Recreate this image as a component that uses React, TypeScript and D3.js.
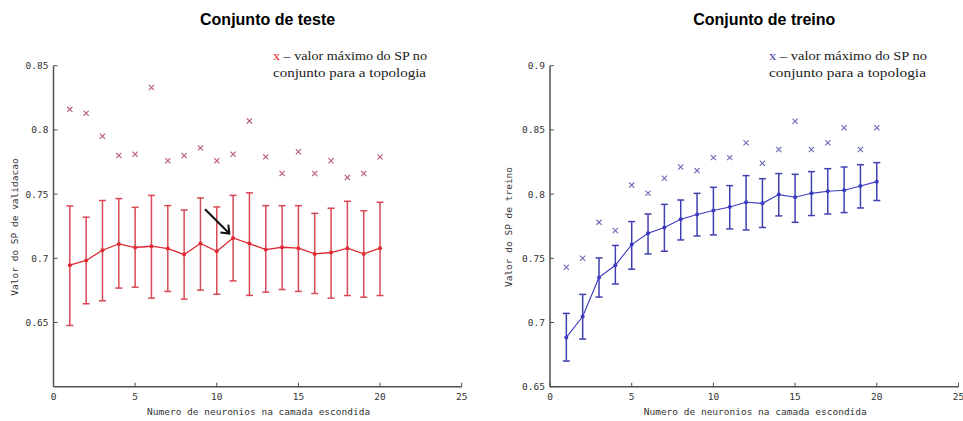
import React from "react";
import * as d3 from "d3";

const neurons = d3.range(1, 21);

// Conjunto de teste
const testMean = [0.6946, 0.6983, 0.7063, 0.7112, 0.7084, 0.7094, 0.7076, 0.703, 0.7115, 0.7055, 0.7159, 0.7115, 0.7068, 0.7086, 0.7079, 0.7034, 0.7045, 0.7079, 0.7034, 0.7079];
const testUpper = [0.7408, 0.732, 0.745, 0.7465, 0.7397, 0.749, 0.741, 0.7376, 0.747, 0.740, 0.749, 0.751, 0.741, 0.741, 0.741, 0.735, 0.739, 0.7444, 0.737, 0.7436];
const testLower = [0.6477, 0.6646, 0.6669, 0.6768, 0.6775, 0.669, 0.6742, 0.6682, 0.6752, 0.672, 0.6824, 0.6711, 0.6736, 0.6757, 0.6742, 0.6726, 0.669, 0.671, 0.6697, 0.671];
const testMax = [0.816, 0.813, 0.795, 0.780, 0.781, 0.833, 0.776, 0.780, 0.786, 0.776, 0.781, 0.807, 0.779, 0.766, 0.783, 0.766, 0.776, 0.763, 0.766, 0.779];

// Conjunto de treino
const trainMean = [0.6884, 0.7047, 0.7351, 0.7446, 0.7607, 0.7695, 0.774, 0.7804, 0.7841, 0.7872, 0.790, 0.7936, 0.7928, 0.7996, 0.7975, 0.8006, 0.8022, 0.803, 0.8063, 0.8097];
const trainUpper = [0.7071, 0.7219, 0.7503, 0.760, 0.7786, 0.7845, 0.792, 0.7954, 0.8006, 0.8053, 0.8066, 0.8144, 0.812, 0.816, 0.8154, 0.8175, 0.8198, 0.8211, 0.8229, 0.8245];
const trainLower = [0.670, 0.6871, 0.7198, 0.730, 0.7415, 0.7534, 0.7555, 0.7643, 0.7674, 0.7682, 0.7729, 0.7721, 0.774, 0.783, 0.778, 0.7833, 0.7845, 0.7856, 0.7892, 0.795];
const trainMax = [0.743, 0.750, 0.778, 0.7716, 0.807, 0.8006, 0.8123, 0.8211, 0.8183, 0.8284, 0.8284, 0.840, 0.824, 0.8348, 0.8568, 0.8348, 0.840, 0.8517, 0.8348, 0.8517];

const xTicks = [0, 5, 10, 15, 20, 25];
const testYTicks = [0.65, 0.7, 0.75, 0.8, 0.85];
const trainYTicks = [0.65, 0.7, 0.75, 0.8, 0.85, 0.9];

// arrow pointing at the best test topology (data units)
const arrowFrom = [9.28, 0.7382];
const arrowTo = [10.77, 0.7193];

const mono = "'DejaVu Sans Mono', monospace";
const serif = "'Liberation Serif', 'DejaVu Serif', serif";

type PanelProps = {
  title: string;
  ylabel: string;
  x0: number;
  x1: number;
  yDomain: [number, number];
  yTicks: number[];
  mean: number[];
  upper: number[];
  lower: number[];
  maxv: number[];
  lineColor: string;
  lineWidth: number;
  barColor: string;
  markColor: string;
  legendColor: string;
  legendX: number;
  legendW: number;
  ylabelX: number;
  arrow?: boolean;
};

const Panel = (p: PanelProps) => {
  const x = d3.scaleLinear().domain([0, 25]).range([p.x0, p.x1]);
  const y = d3.scaleLinear().domain(p.yDomain).range([386.7, 65.7]);
  const line = d3.line<number>().x((d, i) => x(neurons[i])).y((d) => y(d));
  const axisColor = "#505050";
  const cap = 3.5;
  const xs = 2.6;
  const midX = (p.x0 + p.x1) / 2;
  return (
    <g>
      <text x={midX + 10} y={25} textAnchor="middle" fontFamily="Arial, 'Liberation Sans', sans-serif" fontWeight="bold" fontSize={16}>{p.title}</text>

      {/* axes */}
      <line x1={p.x0} x2={p.x0} y1={y(p.yDomain[1])} y2={y(p.yDomain[0])} stroke={axisColor} strokeWidth={1.5} />
      <line x1={p.x0} x2={p.x1} y1={y(p.yDomain[0])} y2={y(p.yDomain[0])} stroke={axisColor} strokeWidth={1.5} />
      {p.yTicks.map((t) => (
        <g key={t}>
          <line x1={p.x0} x2={p.x0 + 4} y1={y(t)} y2={y(t)} stroke={axisColor} strokeWidth={1} />
          <text x={p.x0 - 5} y={y(t) + 3.5} textAnchor="end" fontFamily={mono} fontSize={9.5} fill="#333">{d3.format("")(t)}</text>
        </g>
      ))}
      {xTicks.map((t) => (
        <g key={t}>
          <line x1={x(t)} x2={x(t)} y1={y(p.yDomain[0])} y2={y(p.yDomain[0]) - 4} stroke={axisColor} strokeWidth={1} />
          <text x={x(t)} y={400} textAnchor="middle" fontFamily={mono} fontSize={9.5} fill="#333">{t}</text>
        </g>
      ))}
      <text x={midX + 1} y={415} textAnchor="middle" fontFamily={mono} fontSize={9.5} fill="#333">Numero de neuronios na camada escondida</text>
      <text transform={`translate(${p.ylabelX},227) rotate(-90)`} textAnchor="middle" fontFamily={mono} fontSize={9.5} fill="#333">{p.ylabel}</text>

      {/* max markers */}
      {p.maxv.map((v, i) => (
        <path key={i} d={`M${x(neurons[i]) - xs},${y(v) - xs}L${x(neurons[i]) + xs},${y(v) + xs}M${x(neurons[i]) - xs},${y(v) + xs}L${x(neurons[i]) + xs},${y(v) - xs}`} stroke={p.markColor} strokeWidth={1.1} fill="none" />
      ))}

      {/* error bars */}
      {p.mean.map((v, i) => {
        const cx = x(neurons[i]);
        return (
          <g key={i} stroke={p.barColor} strokeWidth={1.5}>
            <line x1={cx} x2={cx} y1={y(p.upper[i])} y2={y(p.lower[i])} />
            <line x1={cx - cap} x2={cx + cap} y1={y(p.upper[i])} y2={y(p.upper[i])} />
            <line x1={cx - cap} x2={cx + cap} y1={y(p.lower[i])} y2={y(p.lower[i])} />
          </g>
        );
      })}
      <path d={line(p.mean) || ""} fill="none" stroke={p.lineColor} strokeWidth={p.lineWidth} />
      {p.mean.map((v, i) => (
        <circle key={i} cx={x(neurons[i])} cy={y(v)} r={2} fill={p.lineColor} />
      ))}

      {p.arrow && (
        <g stroke="#111" strokeWidth={2} fill="none">
          <line x1={x(arrowFrom[0])} y1={y(arrowFrom[1])} x2={x(arrowTo[0])} y2={y(arrowTo[1])} />
          <path d={`M${x(arrowTo[0]) - 9},${y(arrowTo[1]) - 1}L${x(arrowTo[0])},${y(arrowTo[1])}L${x(arrowTo[0]) - 1},${y(arrowTo[1]) - 9}`} />
        </g>
      )}

      {/* legend */}
      <text x={p.legendX} y={60} fontFamily={serif} fontSize={13.5} fill="#222" textLength={p.legendW} lengthAdjust="spacingAndGlyphs">
        <tspan fill={p.legendColor}>x</tspan> – valor máximo do SP no
      </text>
      <text x={p.legendX} y={77} fontFamily={serif} fontSize={13.5} fill="#222" textLength={p.legendW - 1} lengthAdjust="spacingAndGlyphs">conjunto para a topologia</text>
    </g>
  );
};

const App = () => {
  return (
    <svg width={963} height={421} style={{ position: "absolute", left: 0, top: 0, background: "#fff" }}>
      <rect width={963} height={421} fill="#fff" />
      <Panel
        title="Conjunto de teste"
        ylabel="Valor do SP de validacao"
        x0={53.5}
        x1={461.7}
        yDomain={[0.6, 0.85]}
        yTicks={testYTicks}
        mean={testMean}
        upper={testUpper}
        lower={testLower}
        maxv={testMax}
        lineColor="#e02a34"
        lineWidth={1.3}
        barColor="#d84855"
        markColor="#b85878"
        legendColor="#e8202a"
        legendX={273}
        legendW={154}
        ylabelX={18}
        arrow
      />
      <Panel
        title="Conjunto de treino"
        ylabel="Valor do SP de treino"
        x0={550}
        x1={958.5}
        yDomain={[0.65, 0.9]}
        yTicks={trainYTicks}
        mean={trainMean}
        upper={trainUpper}
        lower={trainLower}
        maxv={trainMax}
        lineColor="#3a3ac0"
        lineWidth={1.1}
        barColor="#4040b0"
        markColor="#6a6ab8"
        legendColor="#4040a0"
        legendX={769}
        legendW={158}
        ylabelX={512}
      />
    </svg>
  );
};

export default App;
